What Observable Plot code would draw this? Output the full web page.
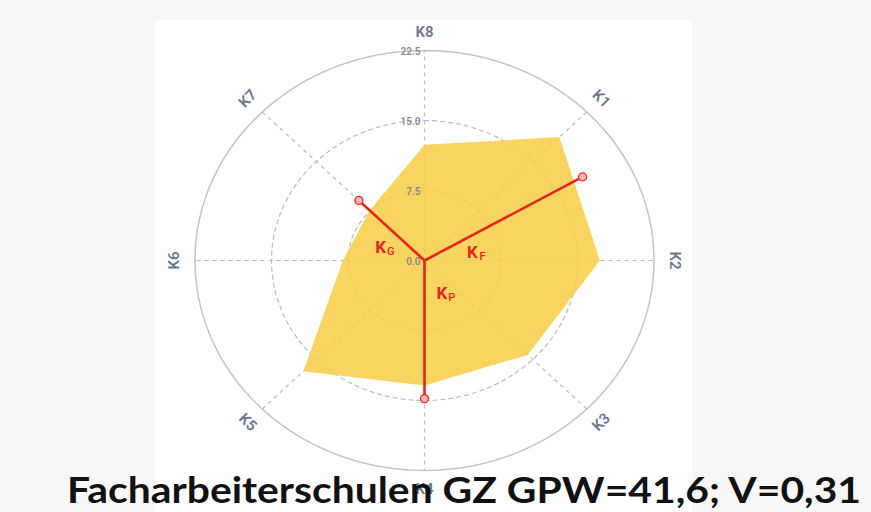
<!DOCTYPE html>
<html>
<head>
<meta charset="utf-8">
<script src="https://cdn.jsdelivr.net/npm/d3@7"></script>
<script src="https://cdn.jsdelivr.net/npm/@observablehq/plot@0.6"></script>
<style>
  html, body { margin: 0; padding: 0; }
  body { width: 871px; height: 512px; background: #f7f7f7; position: relative; overflow: hidden; font-family: "Noto Sans", sans-serif; }
  #panel { position: absolute; left: 155px; top: 20px; width: 537px; height: 492px; background: #ffffff; }
  #chart { position: absolute; left: 155px; top: 20px; }
  #title { position: absolute; left: 67px; top: 469px; font-family: Lato, "Open Sans", sans-serif; font-weight: 700; font-size: 36px; line-height: 40px; color: #111; white-space: nowrap; transform-origin: 0 0; }
</style>
</head>
<body>
<div id="panel"></div>
<div id="chart"></div>
<div id="title">Facharbeiterschulen GZ GPW=41,6; V=0,31</div>
<script>
// ---- data ----
const axisNames = ["K1", "K2", "K3", "K4", "K5", "K6", "K7", "K8"];
const axisAngles = [45, 90, 135, 180, 225, 270, 315, 0];          // degrees, clockwise from top
const axisValues = [18.7, 17.2, 14.3, 13.4, 16.8, 8.0, 7.6, 12.4];
const ringTicks = [0, 7.5, 15, 22.5];
const ringLabels = ["0.0", "7.5", "15.0", "22.5"];
const rMax = 22.5;
const axisLabelRadius = 24.5;

const indicatorNames = ["F", "G", "P"];
const indicatorAngles = [60, 315, 180];
const indicatorValues = [17.9, 9.1, 14.8];
const indicatorLabelX = [4.7, -4.3, 1.7];
const indicatorLabelY = [0.9, 1.4, -3.5];

// ---- helpers ----
const rad = d => d * Math.PI / 180;
const px = (r, a) => r * Math.sin(rad(a));
const py = (r, a) => r * Math.cos(rad(a));
const readable = a => (a > 90 && a < 270) ? a - 180 : a;

const polygon = axisNames.map((k, i) => ({k, x: px(axisValues[i], axisAngles[i]), y: py(axisValues[i], axisAngles[i])}));

const rings = [];
ringTicks.filter(t => t > 0).forEach(t => {
  for (let a = 0; a <= 360; a += 2) rings.push({t, x: px(t, a), y: py(t, a)});
});
const spokes = axisNames.map((k, i) => ({k, x2: px(rMax, axisAngles[i]), y2: py(rMax, axisAngles[i])}));
const axisLabels = axisNames.map((k, i) => ({k, x: px(axisLabelRadius, axisAngles[i]), y: py(axisLabelRadius, axisAngles[i]), rotate: readable(axisAngles[i])}));
const tickLabels = ringTicks.map((t, i) => ({label: ringLabels[i], x: 0, y: t}));
const indicators = indicatorNames.map((n, i) => ({
  n, x: px(indicatorValues[i], indicatorAngles[i]), y: py(indicatorValues[i], indicatorAngles[i]),
  lx: indicatorLabelX[i], ly: indicatorLabelY[i]
}));

const gridColor = "#b9bcc4";
const red = "#e5261c";

const chart = Plot.plot({
  width: 537,
  height: 480,
  x: {domain: [-rMax, rMax], range: [39.5, 498.5], axis: null},
  y: {domain: [-rMax, rMax], range: [450, 30], axis: null},
  style: {background: "transparent", fontFamily: "Roboto, 'Noto Sans', sans-serif"},
  marks: [
    Plot.line(rings.filter(d => d.t < rMax), {x: "x", y: "y", z: "t", stroke: gridColor, strokeWidth: 1.2, strokeDasharray: "4,4"}),
    Plot.line(rings.filter(d => d.t === rMax), {x: "x", y: "y", z: "t", stroke: "#c4c4c4", strokeWidth: 1.5}),
    Plot.link(spokes, {x1: 0, y1: 0, x2: "x2", y2: "y2", stroke: gridColor, strokeWidth: 1.2, strokeDasharray: "4,4"}),
    Plot.line(polygon, {x: "x", y: "y", fill: "#f9cd45", fillOpacity: 0.85, stroke: "none", curve: "linear-closed"}),
    Plot.text(tickLabels, {x: "x", y: "y", text: "label", textAnchor: "end", dx: -4, dy: 1, fontSize: 10, fill: "#8a8a8a", fontWeight: 600}),
    Plot.text(axisLabels, {x: "x", y: "y", text: "k", rotate: "rotate", fontSize: 15, fontWeight: 600, fill: "#6a788f"}),
    Plot.link(indicators, {x1: 0, y1: 0, x2: "x", y2: "y", stroke: red, strokeWidth: 2.6}),
    Plot.dot(indicators, {x: "x", y: "y", r: 4, stroke: red, strokeWidth: 1.3, fill: "#f7b5b0"}),
    Plot.text(indicators, {x: "lx", y: "ly", text: () => "K", fontSize: 17, fontWeight: 700, fill: red}),
    Plot.text(indicators, {x: "lx", y: "ly", text: "n", dx: 10, dy: 4, fontSize: 11, fontWeight: 500, fill: red})
  ]
});
document.getElementById("chart").append(chart);

// fit title width to reference span
const title = document.getElementById("title");
const w = title.getBoundingClientRect().width;
title.style.transform = `scaleX(${794 / w})`;
</script>
</body>
</html>
